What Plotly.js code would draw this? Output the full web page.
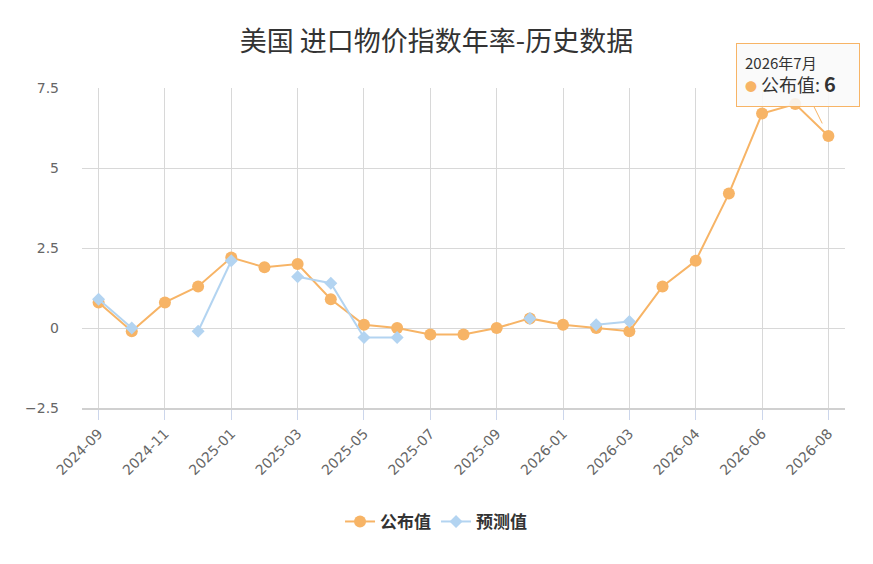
<!DOCTYPE html>
<html>
<head>
<meta charset="utf-8">
<script src="https://cdn.plot.ly/plotly-3.0.1.min.js"></script>
<style>body{margin:0;background:#fff}#chart{width:873px;height:564px}</style>
</head>
<body>
<div id="chart"></div>
<script>
// release months, one per point
var months = ['2024-09','2024-10','2024-11','2024-12','2025-01','2025-02','2025-03','2025-04',
  '2025-05','2025-06','2025-07','2025-08','2025-09','2025-10','2026-01','2026-02','2026-03',
  '2026-03','2026-04','2026-05','2026-06','2026-07','2026-08'];
var actual = [0.8,-0.1,0.8,1.3,2.2,1.9,2.0,0.9,0.1,0.0,-0.2,-0.2,0.0,0.3,0.1,0.0,-0.1,1.3,2.1,4.2,6.7,7.0,6.0];
var forecast = [0.9,0.0,null,-0.1,2.1,null,1.6,1.4,-0.3,-0.3,null,null,null,0.3,null,0.1,0.2,null,null,null,null,null,null];
var yTicks = [-2.5,0,2.5,5,7.5];
var yTickText = ['−2.5','0','2.5','5','7.5'];

var idx = months.map(function(m, i){ return i; });
var tickIdx = idx.filter(function(i){ return i % 2 === 0; });

var orange = '#f7b466', blue = '#b3d4f1';
var tickFont = {size: 14, color: '#666', family: '"DejaVu Sans", sans-serif'};

var trace1 = {
  x: idx, y: actual, name: '公布值', type: 'scatter', mode: 'lines+markers',
  line: {color: orange, width: 2},
  marker: {color: orange, size: 12, symbol: 'circle'},
  connectgaps: false
};
var trace2 = {
  x: idx, y: forecast, name: '预测值', type: 'scatter', mode: 'lines+markers',
  line: {color: blue, width: 2},
  marker: {color: blue, size: 10, symbol: 'diamond'},
  connectgaps: false
};

var layout = {
  width: 873, height: 564,
  margin: {l: 82, r: 28, t: 88, b: 156},
  paper_bgcolor: '#fff', plot_bgcolor: '#fff',
  font: {family: '"Noto Sans CJK SC", "Noto Sans", sans-serif', color: '#333'},
  title: {text: '美国 进口物价指数年率-历史数据', x: 0.5, xanchor: 'center', y: 0.926, yanchor: 'middle',
    font: {size: 27, color: '#333', family: '"Noto Sans CJK SC", sans-serif'}},
  xaxis: {
    range: [-0.5, 22.5], tickmode: 'array', tickvals: tickIdx,
    ticktext: tickIdx.map(function(i){ return months[i]; }),
    tickangle: -45, showgrid: true, gridcolor: '#d8d8d8', gridwidth: 1,
    zeroline: false, showline: true, linecolor: '#d0d0d0', linewidth: 2,
    ticks: 'outside', ticklen: 10, tickcolor: '#ccd6eb',
    tickfont: tickFont
  },
  yaxis: {
    range: [-2.5, 7.5], tickmode: 'array', tickvals: yTicks, ticktext: yTickText,
    showgrid: true, gridcolor: '#d8d8d8', gridwidth: 1, zeroline: false, showline: false,
    ticks: '', ticklabelstandoff: 22,
    tickfont: tickFont
  },
  showlegend: true,
  legend: {orientation: 'h', x: 0.464, xanchor: 'center', y: -0.356, yanchor: 'middle',
    font: {size: 17, color: '#333', family: '"Noto Sans CJK SC", sans-serif', weight: 'bold'},
    itemwidth: 30, traceorder: 'normal'},
  hovermode: false,
  annotations: [{
    x: 22, y: actual[22], xref: 'x', yref: 'y',
    ax: -30, ay: -61, showarrow: true, arrowhead: 0, arrowwidth: 1, arrowcolor: orange,
    standoff: 14,
    text: '<span style="font-size:15px">' + months[21].slice(0,4) + '年7月</span><br>' +
      '<span style="color:' + orange + ';font-size:12px">●</span> 公布值: <b style="font-size:20px">' + actual[22] + '</b>',
    align: 'left', bgcolor: 'rgba(249,249,249,0.88)', bordercolor: orange, borderwidth: 1,
    borderpad: 8, width: 106, font: {size: 18, color: '#333', family: '"Noto Sans CJK SC", sans-serif'}
  }]
};

Plotly.newPlot('chart', [trace1, trace2], layout, {displayModeBar: false, staticPlot: true});
</script>
</body>
</html>
